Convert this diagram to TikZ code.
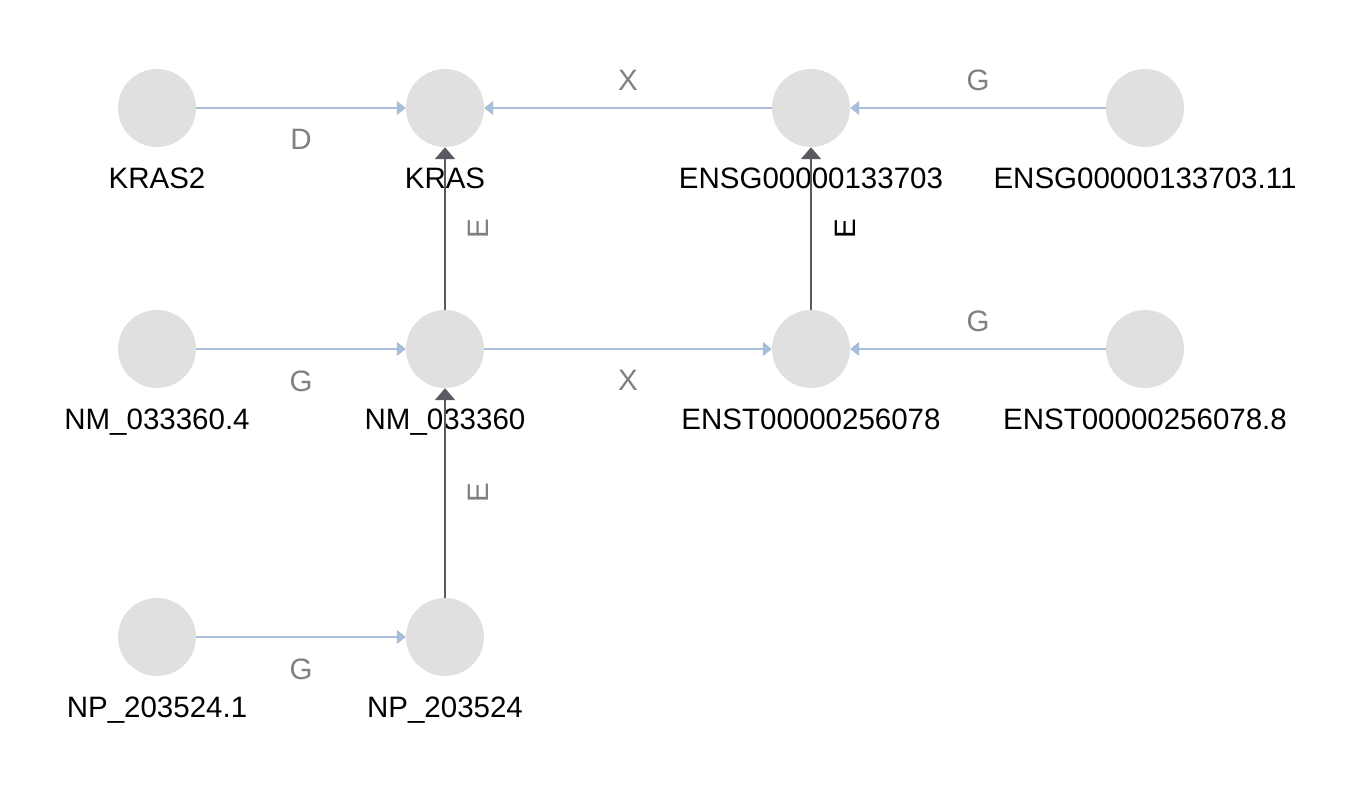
\documentclass[tikz,border=0pt]{standalone}
\usepackage{fontspec}
\setmainfont{Liberation Sans}
\usetikzlibrary{arrows.meta}
\definecolor{nodegray}{HTML}{E0E0E0}
\definecolor{linkblue}{HTML}{A9BFD9}
\definecolor{linkdark}{HTML}{5A5A63}
\definecolor{labelgray}{HTML}{808080}
\begin{document}
\begin{tikzpicture}[x=1pt,y=-1pt,
    font=\fontsize{29.5}{34}\selectfont,
    vertex/.style={circle,fill=nodegray,minimum size=78pt,inner sep=0pt},
    idlink/.style={draw=linkblue,line width=1.2pt,-{Triangle[length=9pt,width=14pt]}},
    encodes/.style={draw=linkdark,line width=2pt,-{Triangle[length=12pt,width=20pt]}},
    elabel/.style={inner sep=0pt,text=labelgray}]
    \useasboundingbox (0,0) rectangle (1362,785);
    \node[vertex,label={[anchor=base,label distance=41pt]below:KRAS2}] (A) at (157,108) {};
    \node[vertex,label={[anchor=base,label distance=41pt]below:KRAS}] (B) at (445,108) {};
    \node[vertex,label={[anchor=base,label distance=41pt]below:ENSG00000133703}] (C) at (811,108) {};
    \node[vertex,label={[anchor=base,label distance=41pt]below:ENSG00000133703.11}] (D) at (1145,108) {};
    \node[vertex,label={[anchor=base,label distance=41pt]below:NM\_033360.4}] (E) at (157,349) {};
    \node[vertex,label={[anchor=base,label distance=41pt]below:NM\_033360}] (F) at (445,349) {};
    \node[vertex,label={[anchor=base,label distance=41pt]below:ENST00000256078}] (G) at (811,349) {};
    \node[vertex,label={[anchor=base,label distance=41pt]below:ENST00000256078.8}] (H) at (1145,349) {};
    \node[vertex,label={[anchor=base,label distance=41pt]below:NP\_203524.1}] (I) at (157,637) {};
    \node[vertex,label={[anchor=base,label distance=41pt]below:NP\_203524}] (J) at (445,637) {};
    \draw [idlink] (A) -- node[elabel,below=21pt] {D} (B);
    \draw [idlink] (C) -- node[elabel,above=17pt] {X} (B);
    \draw [idlink] (D) -- node[elabel,above=17pt] {G} (C);
    \draw [idlink] (E) -- node[elabel,below=21pt] {G} (F);
    \draw [idlink] (F) -- node[elabel,below=21pt] {X} (G);
    \draw [idlink] (H) -- node[elabel,above=17pt] {G} (G);
    \draw [idlink] (I) -- node[elabel,below=21pt] {G} (J);
    \draw [encodes] (F) -- node[elabel,xshift=33pt,rotate=90] {E} (B);
    \draw [encodes] (J) -- node[elabel,xshift=33pt,rotate=90] {E} (F);
    \draw [encodes] (G) -- node[elabel,text=black,xshift=34pt,rotate=90] {E} (C);
\end{tikzpicture}
\end{document}
